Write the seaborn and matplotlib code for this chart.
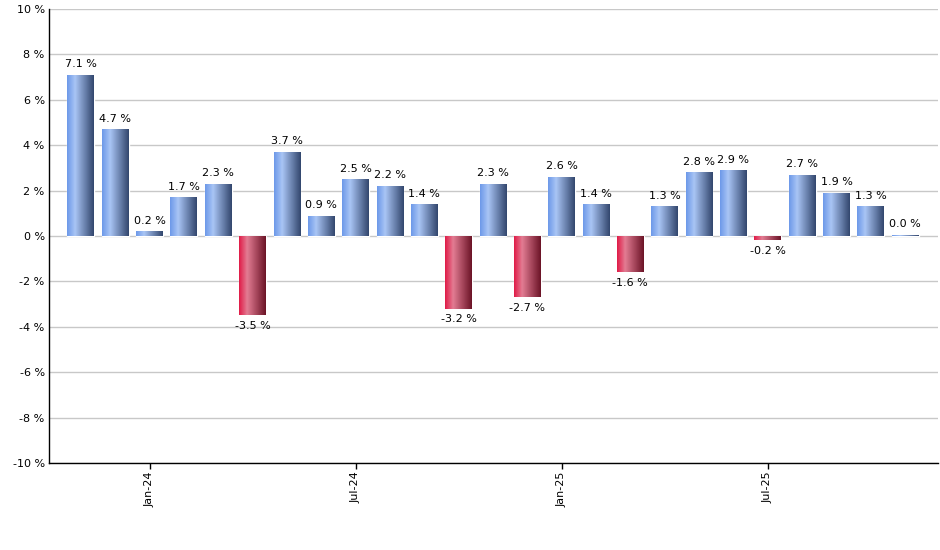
import matplotlib
matplotlib.use("Agg")
import matplotlib.pyplot as plt
from matplotlib.colors import LinearSegmentedColormap
import numpy as np
import pandas as pd
import seaborn as sns


months = [
    "Nov-23", "Dec-23", "Jan-24", "Feb-24", "Mar-24", "Apr-24", "May-24",
    "Jun-24", "Jul-24", "Aug-24", "Sep-24", "Oct-24", "Nov-24", "Dec-24",
    "Jan-25", "Feb-25", "Mar-25", "Apr-25", "May-25", "Jun-25", "Jul-25",
    "Aug-25", "Sep-25", "Oct-25", "Nov-25",
]
returns = [
    7.1, 4.7, 0.2, 1.7, 2.3, -3.5, 3.7, 0.9, 2.5, 2.2, 1.4, -3.2, 2.3,
    -2.7, 2.6, 1.4, -1.6, 1.3, 2.8, 2.9, -0.2, 2.7, 1.9, 1.3, 0.05,
]
label_text = [
    "7.1 %", "4.7 %", "0.2 %", "1.7 %", "2.3 %", "-3.5 %", "3.7 %", "0.9 %",
    "2.5 %", "2.2 %", "1.4 %", "-3.2 %", "2.3 %", "-2.7 %", "2.6 %", "1.4 %",
    "-1.6 %", "1.3 %", "2.8 %", "2.9 %", "-0.2 %", "2.7 %", "1.9 %", "1.3 %",
    "0.0 %",
]
xtick_months = ["Jan-24", "Jul-24", "Jan-25", "Jul-25"]
yticks = [-10, -8, -6, -4, -2, 0, 2, 4, 6, 8, 10]

BLUE_CMAP = LinearSegmentedColormap.from_list(
    "blue_bar", [(0.0, "#6d99e9"), (0.3, "#a9c5f5"), (1.0, "#33476e")]
)
RED_CMAP = LinearSegmentedColormap.from_list(
    "red_bar", [(0.0, "#e01c48"), (0.3, "#e37c93"), (1.0, "#6c1427")]
)


def add_gradients(ax, values):
    grad = np.linspace(0, 1, 64).reshape(1, -1)
    for patch, val in zip(ax.patches, values):
        x0, y0 = patch.get_x(), patch.get_y()
        w, h = patch.get_width(), patch.get_height()
        cmap = BLUE_CMAP if val >= 0 else RED_CMAP
        img = ax.imshow(
            grad, cmap=cmap, aspect="auto",
            extent=[x0, x0 + w, min(y0, y0 + h), max(y0, y0 + h)],
            zorder=patch.get_zorder() + 0.1,
        )
        img.set_clip_path(patch)
        patch.set_facecolor("none")


def main() -> None:
    df = pd.DataFrame({"month": months, "ret": returns})

    sns.set_theme(style="white")
    plt.rcParams["font.family"] = ["DejaVu Sans"]

    fig = plt.figure(figsize=(9.4, 5.5), dpi=100)
    ax = fig.add_axes([0.052, 0.158, 0.946, 0.826])
    ax.yaxis.grid(True, color="#c8c8c8", linewidth=1.0, zorder=0)
    ax.set_axisbelow(True)

    sns.barplot(data=df, x="month", y="ret", color="#6d99e9", width=0.78,
                saturation=1, ax=ax, zorder=2)
    add_gradients(ax, returns)

    for patch, val, txt in zip(ax.patches, returns, label_text):
        cx = patch.get_x() + patch.get_width() / 2
        if val >= 0:
            ax.annotate(txt, (cx, val), xytext=(0, 4), textcoords="offset points",
                        ha="center", va="bottom", fontsize=8, color="black")
        else:
            ax.annotate(txt, (cx, val), xytext=(0, -4), textcoords="offset points",
                        ha="center", va="top", fontsize=8, color="black")

    ax.set_xlim(-0.93, len(months) - 0.04)
    ax.set_ylim(-10, 10)
    ax.set_yticks(yticks)
    ax.set_yticklabels([f"{v} %" for v in yticks], fontsize=8, color="black")
    ax.set_xticks([months.index(m) for m in xtick_months])
    ax.set_xticklabels(xtick_months, rotation=90, fontsize=8, color="black")
    ax.tick_params(axis="y", length=0, pad=3)
    ax.tick_params(axis="x", length=4, width=1, color="black", direction="out", pad=2,
                   bottom=True)
    ax.set_xlabel("")
    ax.set_ylabel("")

    for side in ["top", "right"]:
        ax.spines[side].set_visible(False)
    for side in ["left", "bottom"]:
        ax.spines[side].set_color("black")
        ax.spines[side].set_linewidth(1.0)

    fig.savefig("out.png", dpi=100)
    plt.close(fig)


if __name__ == "__main__":
    main()
